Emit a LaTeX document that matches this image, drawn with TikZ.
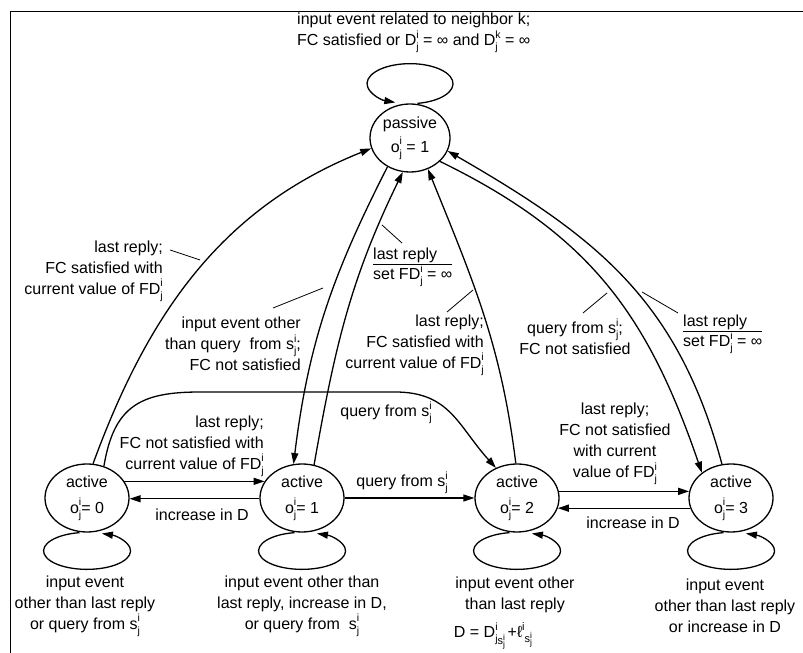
\documentclass[tikz,border=0pt]{standalone}
\usepackage{fontspec}
\setmainfont{Liberation Sans}
\usetikzlibrary{shapes.geometric,arrows.meta}
\newcommand{\jsup}[2]{\rlap{\raisebox{-0.32em}{\fontsize{10.5}{10.5}\selectfont #1}}\raisebox{0.45em}{\fontsize{10.5}{10.5}\selectfont #2}}
\newcommand{\ji}{\jsup{j}{i}}
\newcommand{\tji}{\rlap{\raisebox{-0.28em}{\fontsize{8.5}{8.5}\selectfont j}}\raisebox{0.38em}{\fontsize{8.5}{8.5}\selectfont i}}
\newcommand{\fracbox}[2]{{\renewcommand\arraystretch{0.88}\begin{tabular}{@{}l@{}}#1\\[-1pt]\hline\rule{0pt}{13.5pt}#2\end{tabular}}}
\tikzset{
  state/.style={draw, ellipse, line width=1.3pt, minimum width=84pt, minimum height=68pt, inner sep=0pt, align=center, font=\fontsize{16}{26}\selectfont},
  lbl/.style={inner sep=0pt, font=\fontsize{16}{21}\selectfont},
  conn/.style={line width=1.3pt, -{Triangle[length=11pt,width=7pt]}},
  leader/.style={line width=0.8pt},
}
\begin{document}
\begin{tikzpicture}[x=1pt,y=1pt]
\useasboundingbox (0,0) rectangle (803,653);
% frame
\draw[line width=1.6pt] (10.5,0) -- (10.5,641.5) -- (803,641.5);

% states
\node[state, minimum width=80pt, font=\fontsize{16}{24}\selectfont] (passive) at (410,515) {passive\\o\ji{} = 1};
\node[state] (a0) at (87,155) {active\\o\ji{}= 0};
\node[state] (a1) at (302,155) {active\\o\ji{}= 1};
\node[state] (a2) at (517,155) {active\\o\ji{}= 2};
\node[state] (a3) at (731,155) {active\\o\ji{}= 3};

% self loops
\draw[conn] ([xshift=7.5pt]passive.north) arc[start angle=-80, end angle=250, x radius=43, y radius=20];
\foreach \n in {a0,a1,a2,a3}
  \draw[conn] ([xshift=-7.5pt]\n.south) arc[start angle=100, end angle=430, x radius=43.5, y radius=18.5];

% horizontal transitions
\draw[conn] (a0.24) -- (a1.156);
\draw[conn] (a1.181) -- (a0.359);
\draw[conn] (a1.east) -- (a2.west);
\draw[conn] (a2.9) -- (a3.171);
\draw[conn] (a3.194) -- (a2.346);

% curved transitions
\draw[conn] (a0.80) .. controls +(55,150) and +(-150,-60) .. (passive.195);
\coordinate (qa) at (200,261);
\coordinate (qb) at (395,261);
\draw[conn] (a0.62) .. controls +(10,60) and +(-60,0) .. (qa) -- (qb) .. controls +(55,0) and +(-38,42) .. (a2.125);
\draw[conn] (passive.232) to[out=243,in=83] (a1.104);
\draw[conn] (a1.70) to[out=80,in=244] (passive.258);
\draw[conn] (a2.92) to[out=97,in=292] (passive.300);
\draw[conn] (passive.322) to[out=-26,in=109,looseness=1.05] (a3.139);
\draw[conn] (a3.105) to[out=105,in=330,looseness=1.05] (passive.341);

% labels
\node[lbl, anchor=west, align=left] (ltop) at (297,620) {input event related to neighbor k;\\FC satisfied or D\ji{} = ∞ and D\jsup{j}{k} = ∞};
\node[lbl, anchor=east, align=right] (l1) at (163,382) {last reply;\\FC satisfied with\\current value of FD\ji};
\node[lbl, anchor=east, align=right] (l2) at (301,309) {input event other\\than query\ \ from s\ji;\\FC not satisfied};
\node[lbl, anchor=west] (l3) at (373,386) {\fracbox{last reply}{set FD\ji{} = ∞}};
\node[lbl, anchor=east, align=right] (l4) at (484,308) {last reply;\\FC satisfied with\\current value of FD\ji};
\node[lbl, align=center] (l5) at (575,316) {query from s\ji;\\FC not satisfied};
\node[lbl, anchor=west] (l6) at (683,319) {\fracbox{last reply}{set FD\ji{} = ∞}};
\node[lbl, anchor=east, align=right] (l7) at (264,207) {last reply;\\FC not satisfied with\\current value of FD\ji};
\node[lbl] (l8) at (386,240) {query from s\ji};
\node[lbl] (l9) at (402,170) {query from s\ji};
\node[lbl] (l10) at (202,138) {increase in D};
\node[lbl] (l11) at (633,130) {increase in D};
\node[lbl, align=center] (l12) at (615,209) {last reply;\\FC not satisfied\\with current\\value of FD\ji};
\node[lbl, align=center] (b0) at (85,47) {input event\\other than last reply\\or query from s\ji};
\node[lbl, align=center] (b1) at (302,47) {input event other than\\last reply, increase in D,\\or query from\ \ s\ji};
\node[lbl, align=center] (b2) at (515,58) {input event other\\than last reply};
\node[lbl] (b2f) at (493,17) {D = D\ji\raisebox{-0.45em}{\fontsize{11}{11}\selectfont s\tji}\,+ℓ\raisebox{0.42em}{\fontsize{11}{11}\selectfont i}\raisebox{-0.3em}{\fontsize{11}{11}\selectfont s\tji}};
\node[lbl, align=center] (b3) at (725,47) {input event\\other than last reply\\or increase in D};

% leader lines
\draw[leader] (170,403) -- (200,393);
\draw[leader] (273,345) -- (323,365);
\draw[leader] (382,428) -- (402,410);
\draw[leader] (447,341) -- (473,363);
\draw[leader] (583,340) -- (607,360);
\draw[leader] (642,361) -- (678,340);
\end{tikzpicture}
\end{document}
